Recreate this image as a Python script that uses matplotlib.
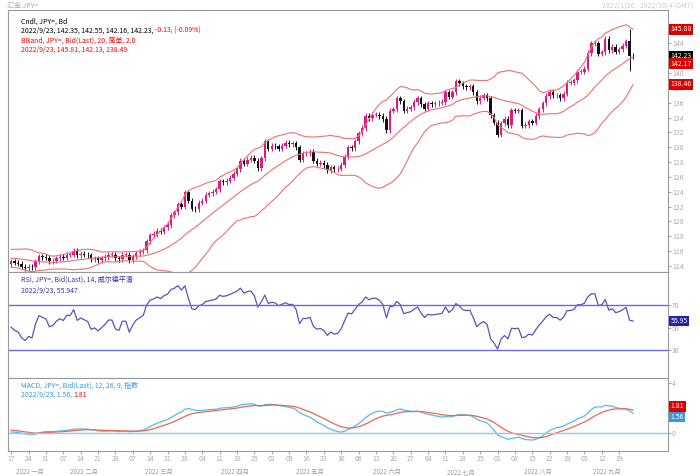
import numpy as np
import pandas as pd
import matplotlib
matplotlib.use("Agg")
import matplotlib.pyplot as plt

plt.rcParams['font.family'] = ['Noto Sans CJK SC', 'DejaVu Sans']

# warm-up closes (Dec 2021 - mid Jan 2022), used for indicators, not shown
warmup_closes = [113.4,113.6,113.8,113.5,113.7,113.9,113.6,113.4,113.7,114.1,
                 114.3,114.4,114.9,115.1,115.2,115.3,115.8,116.1,115.9,115.6,
                 115.5,115.8,115.2,114.6,114.2,114.3,114.5,114.7,114.2,114.2]
weekly_closes = [
    [114.6,114.4,114.3,113.9,113.7],[113.9,113.8,114.6,115.3,115.2],[115.1,114.6,114.7,115.0,115.2],
    [115.1,115.5,115.5,116.0,115.4],[115.6,115.5,115.4,114.9,115.0],[114.8,115.0,115.2,115.5,115.5],
    [115.0,114.9,115.5,115.5,114.8],[115.3,115.7,115.9,116.1,117.3],[118.1,118.3,118.7,118.6,119.2],
    [119.5,120.8,121.2,122.3,122.0],[123.9,122.8,121.7,121.6,122.5],[122.8,123.6,123.8,124.0,124.3],
    [125.4,125.3,125.5,125.9,126.4],[127.0,128.2,127.8,128.3,128.6],[128.2,127.2,128.5,130.8,129.8],
    [130.2,130.1,129.8,130.2,130.6],[130.4,130.5,130.0,128.3,129.2],[129.2,129.4,128.2,127.8,127.9],
    [127.6,126.9,127.3,127.0,127.1],[127.6,128.7,130.0,129.9,130.8],[131.9,132.6,134.2,133.9,134.4],
    [134.4,134.2,133.8,132.3,134.9],[135.1,136.6,136.2,134.9,135.2],[135.4,136.1,136.6,135.8,135.2],
    [135.9,135.8,135.9,136.0,136.1],[137.4,136.8,137.4,138.9,138.6],[138.2,138.1,138.2,137.4,136.2],
    [136.7,137.0,136.6,134.3,133.3],[131.7,133.2,133.8,133.0,135.0],[134.9,135.0,132.9,133.0,133.5],
    [133.3,134.2,135.1,135.9,136.9],[137.5,137.0,137.0,136.6,137.2],[138.7,138.7,139.0,140.2,140.2],
    [140.6,142.7,144.0,144.0,142.6],[142.8,144.6,143.1,143.5,142.9],[143.2,143.7,144.3,142.36,142.23],
]
start_date = "2022-01-17"
spike_day = 178          # 9/22 intervention
spike_high, spike_low = 145.9, 140.3
last_open = 142.35

w = len(warmup_closes)
closes_all = np.array(warmup_closes + [c for wk in weekly_closes for c in wk])
closes = closes_all[w:]
n = len(closes)
dates = pd.bdate_range(start_date, periods=n)
opens = np.r_[closes_all[w-1], closes[:-1]]
opens[-1] = last_open
highs = np.maximum(opens, closes) + 0.35
lows = np.minimum(opens, closes) - 0.35
highs[spike_day], lows[spike_day] = spike_high, spike_low

s = pd.Series(closes_all)
mid = s.rolling(20, min_periods=1).mean().iloc[w:].values
sd = s.rolling(20, min_periods=1).std(ddof=0).iloc[w:].values
up, lo = mid + 2*sd, mid - 2*sd
d = s.diff().fillna(0)
ag = d.clip(lower=0).ewm(alpha=1/14, adjust=False).mean()
al = (-d.clip(upper=0)).ewm(alpha=1/14, adjust=False).mean()
rsi = (100 - 100/(1 + ag/al.replace(0, 1e-9))).iloc[w:].values
macd_s = s.ewm(span=12, adjust=False).mean() - s.ewm(span=26, adjust=False).mean()
sig = macd_s.ewm(span=9, adjust=False).mean().iloc[w:].values
macd = macd_s.iloc[w:].values

fig = plt.figure(figsize=(7, 4.76), dpi=100)
L, R = 0.011, 0.954
ax1 = fig.add_axes([L, 0.429, R-L, 0.550])
ax2 = fig.add_axes([L, 0.206, R-L, 0.223], sharex=ax1)
ax3 = fig.add_axes([L, 0.052, R-L, 0.154], sharex=ax1)
x = np.arange(n)
for i in range(n):
    c = '#e8157f' if closes[i] >= opens[i] else '#111111'
    ax1.vlines(x[i], lows[i], highs[i], color=c, lw=0.7)
    ax1.bar(x[i], max(abs(closes[i]-opens[i]), 0.08), bottom=min(opens[i], closes[i]), width=0.7, color=c)
for b in (up, mid, lo):
    ax1.plot(x, b, color='#f07070', lw=0.8)
ax1.set_ylim(113.2, 148.5)
ax1.set_xlim(-1, n + 9)
ax1.yaxis.tick_right()
ax1.set_yticks(np.arange(114, 147, 2))
ax2.plot(x, rsi, color='#5555bb', lw=0.9)
for lv in (70, 30):
    ax2.axhline(lv, color='#6666ee', lw=1)
ax2.set_ylim(5, 100)
ax2.yaxis.tick_right()
ax2.set_yticks([30, 50, 70])
ax3.plot(x, macd, color='#55bbee', lw=0.9)
ax3.plot(x, sig, color='#ee6655', lw=0.9)
ax3.axhline(0, color='#88ccee', lw=1)
ax3.set_ylim(-1.5, 4.4)
ax3.yaxis.tick_right()
ax3.set_yticks([0, 2, 4])
for a in (ax1, ax2, ax3):
    a.tick_params(labelsize=5, colors='#aaaaaa', length=2, pad=1)
    for sp in a.spines.values():
        sp.set_color('#999999')
        sp.set_linewidth(0.8)
for a in (ax1, ax2):
    plt.setp(a.get_xticklabels(), visible=False)
mondays = [i for i in range(n) if dates[i].weekday() == 0]
ax3.set_xticks(mondays)
ax3.set_xticklabels([dates[i].strftime('%d') for i in mondays])
cn = {1:'一月',2:'二月',3:'三月',4:'四月',5:'五月',6:'六月',7:'七月',8:'八月',9:'九月'}
bounds = [0] + [i for i in range(1, n) if dates[i].month != dates[i-1].month] + [n]
for a_, b_ in zip(bounds[:-1], bounds[1:]):
    if b_ - a_ < 8:
        continue
    xc = (a_ + b_) / 2
    ax3.annotate(f'2022 {cn[dates[a_].month]}', xy=(xc, 0), xycoords=('data', 'axes fraction'),
                 xytext=(0, -12), textcoords='offset points', fontsize=4.5, color='#999999', ha='center', va='top')
# labels
fig.text(0.01, 0.988, '汇金 JPY=', fontsize=5, color='#aaaaaa', va='center')
fig.text(0.99, 0.988, '2022/1/26 - 2022/10/4 (GMT)', fontsize=5, color='#cccccc', va='center', ha='right')
ax1.text(0.02, 0.97, 'Cndl, JPY=, Bd', transform=ax1.transAxes, fontsize=5, va='top')
t = ax1.text(0.02, 0.935, '2022/9/23, 142.35, 142.55, 142.16, 142.23, ', transform=ax1.transAxes, fontsize=5, va='top')
ax1.annotate('-0.13, (-0.09%)', xy=(1, 0), xycoords=t, fontsize=5, va='bottom', color='red')
ax1.text(0.02, 0.90, 'BBand, JPY=, Bid(Last), 20, 简单, 2.0', transform=ax1.transAxes, fontsize=5, va='top', color='red')
ax1.text(0.02, 0.865, '2022/9/23, 145.81, 142.13, 138.49', transform=ax1.transAxes, fontsize=5, va='top', color='red')
ax2.text(0.02, 0.96, 'RSI, JPY=, Bid(Last), 14, 威尔德平滑', transform=ax2.transAxes, fontsize=5, va='top', color='#3333aa')
ax2.text(0.02, 0.86, f'2022/9/23, {rsi[-1]:.3f}', transform=ax2.transAxes, fontsize=5, va='top', color='#3333aa')
ax3.text(0.02, 0.95, 'MACD, JPY=, Bid(Last), 12, 26, 9, 指数', transform=ax3.transAxes, fontsize=5, va='top', color='#3399dd')
t2 = ax3.text(0.02, 0.82, f'2022/9/23, {macd[-1]:.2f}, ', transform=ax3.transAxes, fontsize=5, va='top', color='#3399dd')
ax3.annotate(f'{sig[-1]:.2f}', xy=(1, 0), xycoords=t2, fontsize=5, va='bottom', color='red')
def tag(ax, y, txt, fc, tc='white'):
    ax.annotate(txt, xy=(1.0, y), xycoords=('axes fraction', 'data'), xytext=(2, 0), textcoords='offset points',
                fontsize=5, va='center', color=tc, bbox=dict(boxstyle='square,pad=0.2', fc=fc, ec='none'))
tag(ax1, up[-1], f'{up[-1]:.2f}', '#dd0000')
tag(ax1, closes[-1], f'{closes[-1]:.2f}', '#000000')
tag(ax1, mid[-1] - 0.9, f'{mid[-1]:.2f}', '#dd0000')
tag(ax1, lo[-1], f'{lo[-1]:.2f}', '#dd0000')
tag(ax2, rsi[-1], f'{rsi[-1]:.2f}', '#2222aa')
tag(ax3, sig[-1] + 0.3, f'{sig[-1]:.2f}', '#dd0000')
tag(ax3, macd[-1] - 0.3, f'{macd[-1]:.2f}', '#3399dd')
fig.savefig('out.png', dpi=100)
